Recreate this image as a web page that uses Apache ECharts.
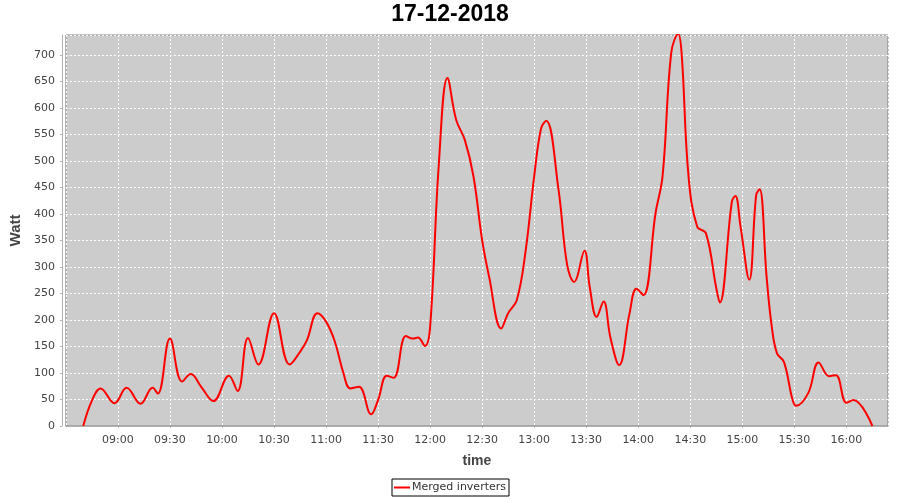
<!DOCTYPE html>
<html>
<head>
<meta charset="utf-8">
<script src="https://cdn.jsdelivr.net/npm/echarts@6/dist/echarts.min.js"></script>
<style>
html,body{margin:0;padding:0;background:#fff;}
#chart{width:900px;height:500px;}
</style>
</head>
<body>
<div id="chart"></div>
<script>
// Chart data
var chartTitle = '17-12-2018';
var seriesName = 'Merged inverters';
var times = ['08:40','08:45','08:50','08:58','09:05','09:13','09:20','09:23','09:30','09:37',
  '09:42','09:48','09:55','10:04','10:09','10:15','10:21','10:30','10:39','10:45',
  '10:49','10:55','11:00','11:05','11:10','11:14','11:19','11:26','11:30','11:35',
  '11:39','11:46','11:50','11:53','11:57','12:00','12:05','12:10','12:15','12:20',
  '12:25','12:30','12:34','12:41','12:45','12:50','12:55','13:00','13:04','13:07',
  '13:14','13:19','13:23','13:29','13:32','13:36','13:40','13:44','13:49','13:55',
  '13:59','14:03','14:10','14:14','14:19','14:23','14:25','14:29','14:34','14:39',
  '14:45','14:47','14:54','14:56','14:59','15:04','15:08','15:10','15:14','15:17',
  '15:20','15:24','15:29','15:31','15:38','15:44','15:50','15:54','16:00','16:04','16:15'];
var watts = [0,48,71,43,72,42,72,61,165,84,
  98,74,47,95,66,166,116,213,116,140,
  162,213,197,160,100,71,74,22,49,95,
  91,170,165,167,151,187,493,657,578,540,
  471,351,282,184,213,238,329,471,562,576,
  447,304,272,331,263,206,235,166,115,213,
  259,247,402,471,704,740,704,471,376,364,
  260,233,424,434,376,276,436,447,282,187,
  137,121,49,38,62,120,94,96,44,49,0];
var xTickStart = '08:30', xTickEnd = '16:24', xTickStepMin = 30;
var yMin = 0, yMax = 738, yStep = 50;

function toMin(s){ var p = s.split(':'); return (+p[0])*60 + (+p[1]); }
function fmt(m){ var h = Math.floor(m/60), mm = Math.round(m%60);
  return (h<10?'0':'')+h+':'+(mm<10?'0':'')+mm; }

var points = times.map(function(t,i){ return [toMin(t), watts[i]]; });

var chart = echarts.init(document.getElementById('chart'), null, {renderer:'canvas'});
var tickFont = 'DejaVu Sans';
chart.setOption({
  animation: false,
  backgroundColor: '#ffffff',
  title: {
    text: chartTitle, left: 'center', top: 3, padding: 0,
    textStyle: {fontFamily: 'Liberation Sans', fontWeight: 'bold', fontSize: 23, lineHeight: 24, color: '#000'}
  },
  legend: {
    data: [seriesName], left: 'center', bottom: 4,
    orient: 'horizontal',
    borderColor: '#000', borderWidth: 1, padding: [3, 3, 3, 2],
    icon: 'rect', itemWidth: 16, itemHeight: 2, itemGap: 0,
    textStyle: {fontFamily: tickFont, fontSize: 11, color: '#333', padding: [0,0,0,-3]}
  },
  grid: {
    left: 64, right: 12, top: 35, bottom: 74,
    show: true, backgroundColor: '#CCCCCC', borderColor: '#808080', borderWidth: 1
  },
  xAxis: {
    type: 'value', min: toMin(xTickStart), max: toMin(xTickEnd), interval: xTickStepMin,
    offset: 4,
    name: 'time', nameLocation: 'middle', nameGap: 24,
    nameTextStyle: {fontFamily: 'Liberation Sans', fontWeight: 'bold', fontSize: 14, color: '#444'},
    axisLine: {show: true, lineStyle: {color: '#b0b0b0', width: 1}},
    axisTick: {show: true, length: 2, lineStyle: {color: '#b0b0b0'}},
    axisLabel: {fontFamily: tickFont, fontSize: 11, color: '#444', margin: 5,
      showMinLabel: false, showMaxLabel: false,
      formatter: function(v){ return fmt(v); }},
    splitLine: {show: true, lineStyle: {color: '#ffffff', type: [2,2], width: 1}}
  },
  yAxis: {
    type: 'value', min: yMin, max: yMax, interval: yStep,
    offset: 4,
    name: 'Watt', nameLocation: 'middle', nameGap: 29, nameRotate: 90,
    nameTextStyle: {fontFamily: 'Liberation Sans', fontWeight: 'bold', fontSize: 15, color: '#444'},
    axisLine: {show: true, lineStyle: {color: '#b0b0b0', width: 1}},
    axisTick: {show: true, length: 2, lineStyle: {color: '#b0b0b0'}},
    axisLabel: {fontFamily: tickFont, fontSize: 11, color: '#444', margin: 7, showMaxLabel: false},
    splitLine: {show: true, lineStyle: {color: '#ffffff', type: [2,2], width: 1}}
  },
  series: [{
    name: seriesName, type: 'line', data: points,
    smooth: 0.4, showSymbol: false, symbol: 'none',
    lineStyle: {color: '#ff0000', width: 2},
    itemStyle: {color: '#ff0000'},
    clip: true
  }]
});
</script>
</body>
</html>
